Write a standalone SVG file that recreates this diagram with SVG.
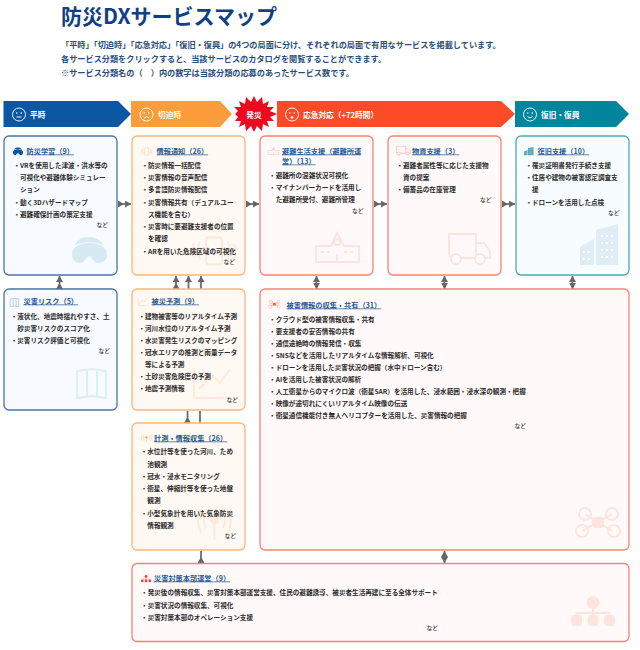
<svg xmlns="http://www.w3.org/2000/svg" width="640" height="650" viewBox="0 0 640 650">
<style>
text{font-family:"Noto Sans CJK JP","Noto Sans",sans-serif}
.t{font-size:21px;font-weight:700;fill:#123f84}
.d{font-size:8.16px;font-weight:700;fill:#2b4f7c}
.h{font-size:7.7px;font-weight:700;fill:#fff}
.n{font-size:7.2px;font-weight:700;fill:#2a5a94;text-decoration:underline}
.b{font-size:6.6px;font-weight:700;fill:#2c2c2c}
.e{font-size:5.8px;font-weight:500;fill:#333;text-anchor:end}
.blue{fill:#f7fbff;stroke:#4a74aa}
.or{fill:#fff9f3;stroke:#fdb57a}
.red{fill:#fffaf9;stroke:#fb8272}
.teal{fill:#f7fdfe;stroke:#4fa6ba}
rect.c{stroke-width:1.3}
.ar{stroke:#666;stroke-width:1.7;fill:none}
.fc{fill:none;stroke:#fff;stroke-width:.9}
.i{fill:none;stroke:currentColor}
.i *{vector-effect:non-scaling-stroke}
.lo{stroke-width:2;color:#fdeadd}
.lr{stroke-width:2;color:#fde4df}
.lb{stroke-width:2;color:#deedf6}
.s{stroke-width:1}
</style>
<defs>
<marker id="a" markerUnits="userSpaceOnUse" markerWidth="7" markerHeight="7" refX="6" refY="3.500" orient="auto-start-reverse"><path d="M0 0L6 3.500L0 7Z" fill="#666"/></marker>
<marker id="b" markerUnits="userSpaceOnUse" markerWidth="7" markerHeight="7" refX="0" refY="3.500" orient="auto"><path d="M0 0L6 3.500L0 7Z" fill="#666"/></marker>
<g id="face"><circle r="6.500" class="fc"/><circle cx="-2.200" cy="-1.500" r=".8" fill="#fff"/><circle cx="2.200" cy="-1.500" r=".8" fill="#fff"/></g>
<g id="vr"><path stroke="none" fill="currentColor" d="M0 18C0 9 8 6 17 6C26 6 35 9 35 18C35 26 26 27 23 25C20 22 18 19 17 19C16 19 14 22 11 25C8 27 0 26 0 18Z"/><path stroke="none" fill="currentColor" d="M2 9C6 1 12 0 17 0C22 0 28 1 32 9C26 4 8 4 2 9Z"/></g>
<g id="phone"><rect x="16" y="1" width="16" height="27" rx="3"/><path d="M10 5Q6 14 10 23M4 7Q1 14 4 21M38 5Q42 14 38 23M44 7Q47 14 44 21"/></g>
<g id="school"><path d="M1 30V14H16L22 1L29 14H44V30Z"/><circle cx="22" cy="10" r="3"/><path d="M22 30V22M6 20H9M12 20H15M29 20H32M35 20H38"/></g>
<g id="truck"><path d="M1 1H28V25H6Q1 25 1 20ZM28 10H36L42 18V25H28"/><circle cx="8" cy="26" r="5" fill="#fffaf9"/><circle cx="32" cy="26" r="5" fill="#fffaf9"/></g>
<g id="bldg"><path stroke="none" fill="currentColor" d="M0 41V23L14 15V41ZM16 41V6L38 0V41Z"/><path stroke="#fff" stroke-width="2" stroke-dasharray="2 3" d="M3 28H12M3 35H12M21 12H35M21 19H35M21 26H35M21 33H35"/></g>
<g id="map"><path d="M1 3L16 1L30 3V30L16 28L1 30ZM11 2V29M21 2V29"/></g>
<g id="chart"><path d="M1 1V31H38M6 22L20 9L27 16L37 2"/></g>
<g id="antenna"><circle cx="17.500" cy="12" r="3.500" fill="currentColor"/><path d="M17.500 14V32M9 5Q5 12 9 20M26 5Q30 12 26 20M4 1Q-2 12 4 25M31 1Q37 12 31 25"/></g>
<g id="drone"><circle cx="11" cy="7" r="6"/><circle cx="38" cy="7" r="6"/><circle cx="8" cy="24" r="6"/><circle cx="40" cy="24" r="6"/><path d="M11 7L38 24M38 7L8 24"/><rect x="19" y="11" width="10" height="9" rx="2" fill="currentColor"/></g>
<g id="org"><circle cx="22" cy="5.500" r="5.500" fill="currentColor"/><path d="M22 10V21M5.500 21V16H38.500V21"/><g fill="currentColor" stroke="none"><rect x="0" y="18" width="11" height="11" rx="4"/><rect x="16.500" y="18" width="11" height="11" rx="4"/><rect x="33" y="18" width="11" height="11" rx="4"/></g></g>
</defs>
<text class="t" x="61" y="24">防災DXサービスマップ</text>
<text class="d" x="61" y="48">「平時」「切迫時」「応急対応」「復旧・復興」の4つの局面に分け、それぞれの局面で有用なサービスを掲載しています。</text>
<text class="d" x="61" y="62">各サービス分類をクリックすると、当該サービスのカタログを閲覧することができます。</text>
<text class="d" x="61" y="76">※サービス分類名の（　）内の数字は当該分類の応募のあったサービス数です。</text>

<g id="phase-heiji"><path d="M3.500 101H118L131 114L118 127H3.500Z" fill="#0b57a4"/><use href="#face" x="19" y="114.500"/><path class="fc" d="M16.500 117H21.500"/><text class="h" x="30" y="117.500">平時</text></g>
<g id="phase-seppaku"><path d="M131 101H220L232 114L220 127H131Z" fill="#fd9c3a"/><use href="#face" x="146.500" y="114.500"/><path class="fc" d="M144 118Q146.500 115.500 149 118"/><text class="h" x="158" y="117.500">切迫時</text></g>
<g id="phase-hassai"><path d="M254 96L257 102L262 97L263 104L269 101L267 107L274 107L270 111L277 114L270 117L274 121L267 121L269 127L263 124L262 131L257 126L254 132L251 126L246 131L245 124L239 127L241 121L235 121L238 117L235 114L238 111L234 107L241 107L239 101L245 104L246 97L251 102Z" fill="#ee0a1e"/><text class="h" x="254" y="117.500" text-anchor="middle">発災</text></g>
<g id="phase-oukyu"><path d="M277 101H501L515 114L501 127H277Z" fill="#fe4b27"/><use href="#face" x="292" y="114.500"/><circle cx="292" cy="117.500" r="1.300" fill="#fff"/><text class="h" x="303" y="117.500">応急対応（+72時間）</text></g>
<g id="phase-fukkyu"><path d="M515 101H616L629 114L616 127H515Z" fill="#02859d"/><use href="#face" x="530" y="114.500"/><path class="fc" d="M527.500 116.500Q530 119.500 532.500 116.500"/><text class="h" x="541" y="117.500">復旧・復興</text></g>

<g id="connectors" class="ar">
<path d="M118 204H131" marker-start="url(#b)" marker-end="url(#a)"/>
<path d="M246 204H259" marker-start="url(#b)" marker-end="url(#a)"/>
<path d="M374 204H387" marker-start="url(#b)" marker-end="url(#a)"/>
<path d="M502 204H515" marker-start="url(#b)" marker-end="url(#a)"/>
<path d="M59.500 289V276" marker-start="url(#b)" marker-end="url(#a)"/>
<path d="M176 289V276" marker-start="url(#b)" marker-end="url(#a)"/>
<path d="M188.500 289V276" marker-end="url(#a)"/>
<path d="M201 289V276" marker-end="url(#a)"/>
<path d="M187.500 423V411" marker-start="url(#b)"/>
<path d="M200 411V423"/>
<path d="M316.500 276V289" marker-start="url(#a)" marker-end="url(#a)"/>
<path d="M444.500 276V289" marker-start="url(#a)" marker-end="url(#a)"/>
<path d="M572.500 276V289" marker-start="url(#a)" marker-end="url(#a)"/>
<path d="M201 563V551" marker-start="url(#b)"/>
<path d="M444.500 551V563" marker-start="url(#a)" marker-end="url(#a)"/>
</g>

<g id="n-gakushu"><rect class="c blue" x="4" y="136" width="113" height="139" rx="5"/>
<use href="#vr" class="i" transform="translate(72 237)" color="#d7eaf4"/>
<use href="#vr" class="i" transform="translate(13 147.500) scale(.29)" color="#0b57a4"/>
<text class="n" x="26.500" y="153.500">防災学習（9）</text>
<text class="b" x="13.400" y="167.500">・VRを使用した津波・洪水等の</text>
<text class="b" x="20" y="180">可視化や避難体験シミュレー</text>
<text class="b" x="20" y="192">ション</text>
<text class="b" x="13.400" y="204.500">・動く3Dハザードマップ</text>
<text class="b" x="13.400" y="216.500">・避難確保計画の策定支援</text>
<text class="e" x="108" y="226.500">など</text></g>

<g id="n-tsuchi"><rect class="c or" x="132" y="136" width="113" height="139" rx="5"/>
<use href="#phone" class="i lo" transform="translate(190 236.500)"/>
<use href="#phone" class="i s" transform="translate(141 147.500) scale(.24 .28)" color="#fca04f"/>
<text class="n" x="156.500" y="153.500">情報通知（26）</text>
<text class="b" x="141.400" y="167.500">・防災情報一括配信</text>
<text class="b" x="141.400" y="180">・災害情報の音声配信</text>
<text class="b" x="141.400" y="192">・多言語防災情報配信</text>
<text class="b" x="141.400" y="204.500">・災害情報共有（デュアルユー</text>
<text class="b" x="148" y="216.500">ス機能を含む）</text>
<text class="b" x="141.400" y="229">・災害時に要避難支援者の位置</text>
<text class="b" x="148" y="241">を確認</text>
<text class="b" x="141.400" y="253.500">・ARを用いた危険区域の可視化</text>
<text class="e" x="235" y="263.500">など</text></g>

<g id="n-seikatsu"><rect class="c red" x="260" y="136" width="113" height="139" rx="5"/>
<use href="#school" class="i lr" transform="translate(315 232)"/>
<use href="#school" class="i s" transform="translate(268 147) scale(.25)" color="#fb8272"/>
<text class="n" x="282" y="153.500">避難生活支援（避難所運</text>
<text class="n" x="282" y="163.500">営）（13）</text>
<text class="b" x="269.100" y="177.500">・避難所の混雑状況可視化</text>
<text class="b" x="269.100" y="190">・マイナンバーカードを活用し</text>
<text class="b" x="275.700" y="202">た避難所受付、避難所管理</text>
<text class="e" x="363.500" y="212.500">など</text></g>

<g id="n-busshi"><rect class="c red" x="388" y="136" width="113" height="139" rx="5"/>
<use href="#truck" class="i lr" transform="translate(448 233)"/>
<use href="#truck" class="i s" transform="translate(396 146) scale(.35 .29)" color="#fb6a55"/>
<text class="n" x="412" y="153.500">物資支援（3）</text>
<text class="b" x="396.400" y="167.500">・避難者属性等に応じた支援物</text>
<text class="b" x="403" y="180">資の提案</text>
<text class="b" x="396.400" y="192">・備蓄品の在庫管理</text>
<text class="e" x="491.500" y="202">など</text></g>

<g id="n-fukkyu"><rect class="c teal" x="516" y="136" width="113" height="139" rx="5"/>
<use href="#bldg" class="i lb" transform="translate(580 224)"/>
<use href="#bldg" class="i" transform="translate(524 147) scale(.25 .2)" color="#4fa6ba"/>
<text class="n" x="537.500" y="153.500">復旧支援（10）</text>
<text class="b" x="525.400" y="167.500">・罹災証明書発行手続き支援</text>
<text class="b" x="525.400" y="180">・住居や建物の被害認定調査支</text>
<text class="b" x="532" y="192">援</text>
<text class="b" x="525.400" y="204.500">・ドローンを活用した点検</text>
<text class="e" x="619.500" y="214.500">など</text></g>

<g id="n-risk"><rect class="c blue" x="4" y="289" width="113" height="121" rx="5"/>
<use href="#map" class="i lb" transform="translate(76 368)"/>
<use href="#map" class="i s" transform="translate(10 298) scale(.29)" color="#4a74aa"/>
<text class="n" x="23.500" y="303.500">災害リスク（5）</text>
<text class="b" x="10.700" y="318.500">・液状化、地震時揺れやすさ、土</text>
<text class="b" x="17.300" y="330.500">砂災害リスクのスコア化</text>
<text class="b" x="10.700" y="342.500">・災害リスク評価と可視化</text>
<text class="e" x="110" y="352.500">など</text></g>

<g id="n-yosoku"><rect class="c or" x="132" y="289" width="113" height="121" rx="5"/>
<use href="#chart" class="i lo" transform="translate(193 367)"/>
<use href="#chart" class="i s" transform="translate(138 298) scale(.24)" color="#fca65a"/>
<text class="n" x="151.500" y="303.500">被災予測（9）</text>
<text class="b" x="138.400" y="318.500">・建物被害等のリアルタイム予測</text>
<text class="b" x="138.400" y="330.500">・河川水位のリアルタイム予測</text>
<text class="b" x="138.400" y="342.500">・水災害発生リスクのマッピング</text>
<text class="b" x="138.400" y="355">・冠水エリアの推測と雨量データ</text>
<text class="b" x="145" y="367">等による予測</text>
<text class="b" x="138.400" y="379">・土砂災害危険度の予測</text>
<text class="b" x="138.400" y="391">・地震予測情報</text>
<text class="e" x="238" y="401.500">など</text></g>

<g id="n-keisoku"><rect class="c or" x="132" y="423" width="113" height="127" rx="5"/>
<use href="#antenna" class="i lo" transform="translate(197 508)"/>
<use href="#antenna" class="i s" transform="translate(141 434) scale(.31 .28)" color="#fc9c45"/>
<text class="n" x="154" y="440.500">計測・情報収集（26）</text>
<text class="b" x="140.700" y="454">・水位計等を使った河川、ため</text>
<text class="b" x="147.300" y="466.500">池観測</text>
<text class="b" x="140.700" y="478.500">・冠水・浸水モニタリング</text>
<text class="b" x="140.700" y="490.500">・衛星、伸縮計等を使った地盤</text>
<text class="b" x="147.300" y="503">観測</text>
<text class="b" x="140.700" y="515.500">・小型気象計を用いた気象防災</text>
<text class="b" x="147.300" y="527.500">情報観測</text>
<text class="e" x="236" y="537.500">など</text></g>

<g id="n-higai"><rect class="c red" x="260" y="289" width="369" height="261" rx="5"/>
<use href="#drone" class="i lr" transform="translate(574 507)"/>
<use href="#drone" class="i s" transform="translate(268 300) scale(.27)" color="#fb5f4a"/>
<text class="n" x="286.500" y="307.500">被害情報の収集・共有（31）</text>
<text class="b" x="269.100" y="321.500">・クラウド型の被害情報収集・共有</text>
<text class="b" x="269.100" y="333.500">・要支援者の安否情報の共有</text>
<text class="b" x="269.100" y="346">・通信途絶時の情報発信・収集</text>
<text class="b" x="269.100" y="358">・SNSなどを活用したリアルタイムな情報解析、可視化</text>
<text class="b" x="269.100" y="369.500">・ドローンを活用した災害状況の把握（水中ドローン含む）</text>
<text class="b" x="269.100" y="381.500">・AIを活用した被害状況の解析</text>
<text class="b" x="269.100" y="394">・人工衛星からのマイクロ波（衛星SAR）を活用した、浸水範囲・浸水深の観測・把握</text>
<text class="b" x="269.100" y="406">・映像が途切れにくいリアルタイム映像の伝送</text>
<text class="b" x="269.100" y="418">・衛星通信機能付き無人ヘリコプターを活用した、災害情報の把握</text>
<text class="e" x="526" y="428">など</text></g>

<g id="n-honbu"><rect class="c red" x="132" y="563.500" width="497" height="78" rx="5"/>
<use href="#org" class="i lr" transform="translate(571 597)"/>
<use href="#org" class="i s" transform="translate(141 575) scale(.23 .25)" color="#f04030"/>
<text class="n" x="154" y="580.500">災害対策本部運営（9）</text>
<text class="b" x="141.100" y="595">・発災後の情報収集、災害対策本部運営支援、住民の避難誘導、被災者生活再建に至る全体サポート</text>
<text class="b" x="141.100" y="607.500">・災害状況の情報収集、可視化</text>
<text class="b" x="141.100" y="620">・災害対策本部のオペレーション支援</text>
<text class="e" x="438" y="630">など</text></g>
</svg>
